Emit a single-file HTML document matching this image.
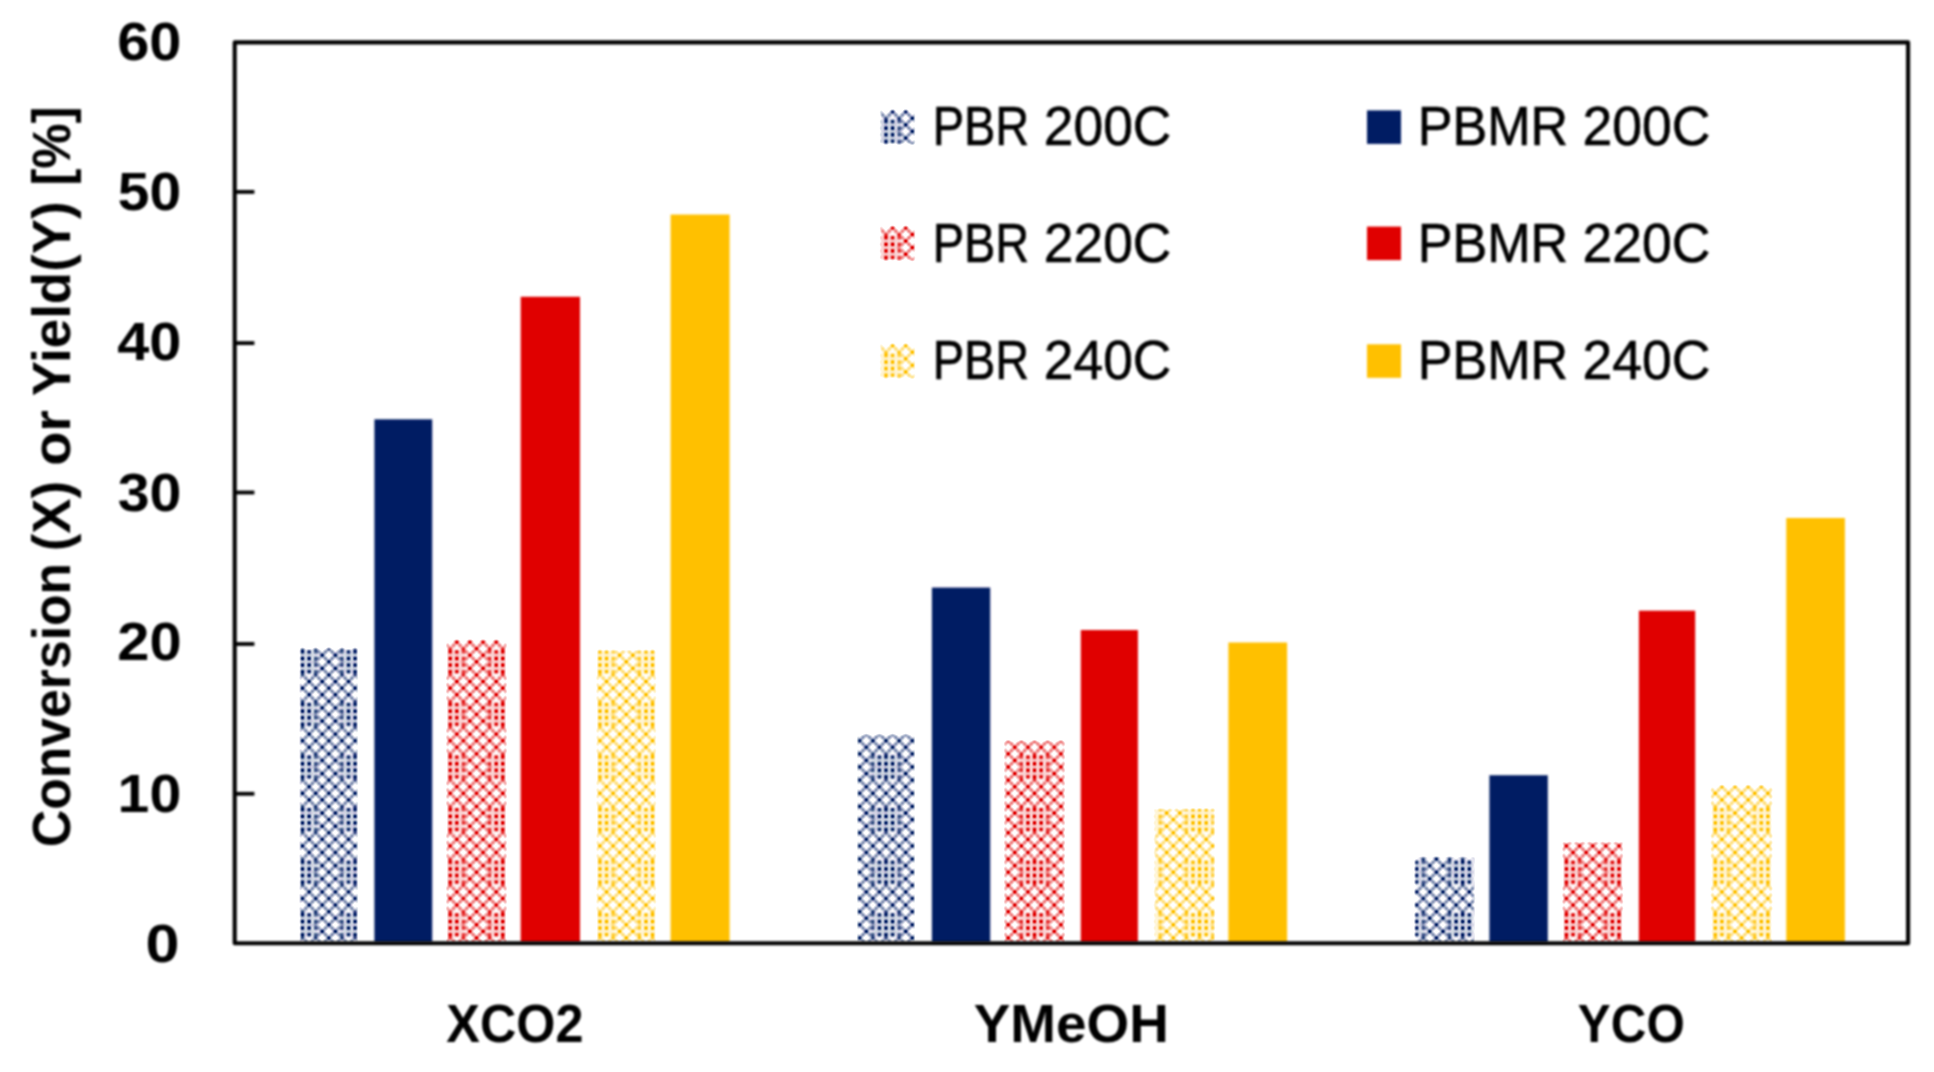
<!DOCTYPE html>
<html lang="en"><head><meta charset="utf-8"><title>Conversion or Yield chart</title>
<style>
html,body{margin:0;padding:0;background:#fff;}
body{width:1934px;height:1072px;overflow:hidden;}
svg{display:block;}
text{font-family:"Liberation Sans",sans-serif;fill:#000;}
.b{font-weight:700;font-size:53px;}
.d{font-weight:700;font-size:52.8px;}
.l{font-weight:400;font-size:55px;stroke:#000;stroke-width:0.6px;}
</style></head><body>
<svg width="1934" height="1072" viewBox="0 0 1934 1072">
<defs>
<g id="tile">
<rect x="0.00" y="0.00" width="3.29" height="3.29" fill-opacity="0.16"/>
<rect x="3.29" y="0.00" width="3.29" height="3.29" fill-opacity="0.20"/>
<rect x="6.58" y="0.00" width="3.29" height="3.29" fill-opacity="0.16"/>
<rect x="9.86" y="0.00" width="3.29" height="3.29" fill-opacity="0.20"/>
<rect x="13.15" y="0.00" width="3.29" height="3.29" fill-opacity="0.41"/>
<rect x="16.44" y="0.00" width="3.29" height="3.29" fill-opacity="0.09"/>
<rect x="23.01" y="0.00" width="3.29" height="3.29" fill-opacity="0.06"/>
<rect x="26.30" y="0.00" width="3.29" height="3.29" fill-opacity="1.00"/>
<rect x="29.59" y="0.00" width="3.29" height="3.29" fill-opacity="0.06"/>
<rect x="36.16" y="0.00" width="3.29" height="3.29" fill-opacity="0.09"/>
<rect x="39.45" y="0.00" width="3.29" height="3.29" fill-opacity="0.41"/>
<rect x="42.74" y="0.00" width="3.29" height="3.29" fill-opacity="0.20"/>
<rect x="46.02" y="0.00" width="3.29" height="3.29" fill-opacity="0.16"/>
<rect x="49.31" y="0.00" width="3.29" height="3.29" fill-opacity="0.20"/>
<rect x="0.00" y="3.29" width="3.29" height="3.29" fill-opacity="1.00"/>
<rect x="3.29" y="3.29" width="3.29" height="3.29" fill-opacity="0.06"/>
<rect x="6.58" y="3.29" width="3.29" height="3.29" fill-opacity="1.00"/>
<rect x="9.86" y="3.29" width="3.29" height="3.29" fill-opacity="0.06"/>
<rect x="13.15" y="3.29" width="3.29" height="3.29" fill-opacity="0.72"/>
<rect x="16.44" y="3.29" width="3.29" height="3.29" fill-opacity="0.41"/>
<rect x="19.73" y="3.29" width="3.29" height="3.29" fill-opacity="0.06"/>
<rect x="23.01" y="3.29" width="3.29" height="3.29" fill-opacity="0.50"/>
<rect x="26.30" y="3.29" width="3.29" height="3.29" fill-opacity="0.06"/>
<rect x="29.59" y="3.29" width="3.29" height="3.29" fill-opacity="0.50"/>
<rect x="32.88" y="3.29" width="3.29" height="3.29" fill-opacity="0.06"/>
<rect x="36.16" y="3.29" width="3.29" height="3.29" fill-opacity="0.41"/>
<rect x="39.45" y="3.29" width="3.29" height="3.29" fill-opacity="0.72"/>
<rect x="42.74" y="3.29" width="3.29" height="3.29" fill-opacity="0.06"/>
<rect x="46.02" y="3.29" width="3.29" height="3.29" fill-opacity="1.00"/>
<rect x="49.31" y="3.29" width="3.29" height="3.29" fill-opacity="0.06"/>
<rect x="0.00" y="6.58" width="3.29" height="3.29" fill-opacity="0.16"/>
<rect x="3.29" y="6.58" width="3.29" height="3.29" fill-opacity="0.20"/>
<rect x="6.58" y="6.58" width="3.29" height="3.29" fill-opacity="0.16"/>
<rect x="9.86" y="6.58" width="3.29" height="3.29" fill-opacity="0.20"/>
<rect x="13.15" y="6.58" width="3.29" height="3.29" fill-opacity="0.11"/>
<rect x="16.44" y="6.58" width="3.29" height="3.29" fill-opacity="0.09"/>
<rect x="19.73" y="6.58" width="3.29" height="3.29" fill-opacity="1.00"/>
<rect x="23.01" y="6.58" width="3.29" height="3.29" fill-opacity="0.06"/>
<rect x="29.59" y="6.58" width="3.29" height="3.29" fill-opacity="0.06"/>
<rect x="32.88" y="6.58" width="3.29" height="3.29" fill-opacity="1.00"/>
<rect x="36.16" y="6.58" width="3.29" height="3.29" fill-opacity="0.09"/>
<rect x="39.45" y="6.58" width="3.29" height="3.29" fill-opacity="0.11"/>
<rect x="42.74" y="6.58" width="3.29" height="3.29" fill-opacity="0.20"/>
<rect x="46.02" y="6.58" width="3.29" height="3.29" fill-opacity="0.16"/>
<rect x="49.31" y="6.58" width="3.29" height="3.29" fill-opacity="0.20"/>
<rect x="0.00" y="9.86" width="3.29" height="3.29" fill-opacity="0.89"/>
<rect x="3.29" y="9.86" width="3.29" height="3.29" fill-opacity="0.11"/>
<rect x="6.58" y="9.86" width="3.29" height="3.29" fill-opacity="0.89"/>
<rect x="9.86" y="9.86" width="3.29" height="3.29" fill-opacity="0.11"/>
<rect x="13.15" y="9.86" width="3.29" height="3.29" fill-opacity="0.64"/>
<rect x="16.44" y="9.86" width="3.29" height="3.29" fill-opacity="0.42"/>
<rect x="19.73" y="9.86" width="3.29" height="3.29" fill-opacity="0.06"/>
<rect x="23.01" y="9.86" width="3.29" height="3.29" fill-opacity="0.50"/>
<rect x="26.30" y="9.86" width="3.29" height="3.29" fill-opacity="0.06"/>
<rect x="29.59" y="9.86" width="3.29" height="3.29" fill-opacity="0.50"/>
<rect x="32.88" y="9.86" width="3.29" height="3.29" fill-opacity="0.06"/>
<rect x="36.16" y="9.86" width="3.29" height="3.29" fill-opacity="0.42"/>
<rect x="39.45" y="9.86" width="3.29" height="3.29" fill-opacity="0.64"/>
<rect x="42.74" y="9.86" width="3.29" height="3.29" fill-opacity="0.11"/>
<rect x="46.02" y="9.86" width="3.29" height="3.29" fill-opacity="0.89"/>
<rect x="49.31" y="9.86" width="3.29" height="3.29" fill-opacity="0.11"/>
<rect x="0.00" y="13.15" width="3.29" height="3.29" fill-opacity="0.70"/>
<rect x="3.29" y="13.15" width="3.29" height="3.29" fill-opacity="0.11"/>
<rect x="6.58" y="13.15" width="3.29" height="3.29" fill-opacity="0.06"/>
<rect x="9.86" y="13.15" width="3.29" height="3.29" fill-opacity="0.11"/>
<rect x="13.15" y="13.15" width="3.29" height="3.29" fill-opacity="0.79"/>
<rect x="16.44" y="13.15" width="3.29" height="3.29" fill-opacity="0.07"/>
<rect x="23.01" y="13.15" width="3.29" height="3.29" fill-opacity="0.06"/>
<rect x="26.30" y="13.15" width="3.29" height="3.29" fill-opacity="1.00"/>
<rect x="29.59" y="13.15" width="3.29" height="3.29" fill-opacity="0.06"/>
<rect x="36.16" y="13.15" width="3.29" height="3.29" fill-opacity="0.07"/>
<rect x="39.45" y="13.15" width="3.29" height="3.29" fill-opacity="0.79"/>
<rect x="42.74" y="13.15" width="3.29" height="3.29" fill-opacity="0.11"/>
<rect x="46.02" y="13.15" width="3.29" height="3.29" fill-opacity="0.06"/>
<rect x="49.31" y="13.15" width="3.29" height="3.29" fill-opacity="0.11"/>
<rect x="0.00" y="16.44" width="3.29" height="3.29" fill-opacity="0.06"/>
<rect x="3.29" y="16.44" width="3.29" height="3.29" fill-opacity="0.50"/>
<rect x="6.58" y="16.44" width="3.29" height="3.29" fill-opacity="0.06"/>
<rect x="9.86" y="16.44" width="3.29" height="3.29" fill-opacity="0.50"/>
<rect x="13.15" y="16.44" width="3.29" height="3.29" fill-opacity="0.06"/>
<rect x="16.44" y="16.44" width="3.29" height="3.29" fill-opacity="0.50"/>
<rect x="19.73" y="16.44" width="3.29" height="3.29" fill-opacity="0.06"/>
<rect x="23.01" y="16.44" width="3.29" height="3.29" fill-opacity="0.50"/>
<rect x="26.30" y="16.44" width="3.29" height="3.29" fill-opacity="0.06"/>
<rect x="29.59" y="16.44" width="3.29" height="3.29" fill-opacity="0.50"/>
<rect x="32.88" y="16.44" width="3.29" height="3.29" fill-opacity="0.06"/>
<rect x="36.16" y="16.44" width="3.29" height="3.29" fill-opacity="0.50"/>
<rect x="39.45" y="16.44" width="3.29" height="3.29" fill-opacity="0.06"/>
<rect x="42.74" y="16.44" width="3.29" height="3.29" fill-opacity="0.50"/>
<rect x="46.02" y="16.44" width="3.29" height="3.29" fill-opacity="0.06"/>
<rect x="49.31" y="16.44" width="3.29" height="3.29" fill-opacity="0.50"/>
<rect x="3.29" y="19.73" width="3.29" height="3.29" fill-opacity="0.06"/>
<rect x="6.58" y="19.73" width="3.29" height="3.29" fill-opacity="1.00"/>
<rect x="9.86" y="19.73" width="3.29" height="3.29" fill-opacity="0.06"/>
<rect x="16.44" y="19.73" width="3.29" height="3.29" fill-opacity="0.06"/>
<rect x="19.73" y="19.73" width="3.29" height="3.29" fill-opacity="1.00"/>
<rect x="23.01" y="19.73" width="3.29" height="3.29" fill-opacity="0.06"/>
<rect x="29.59" y="19.73" width="3.29" height="3.29" fill-opacity="0.06"/>
<rect x="32.88" y="19.73" width="3.29" height="3.29" fill-opacity="1.00"/>
<rect x="36.16" y="19.73" width="3.29" height="3.29" fill-opacity="0.06"/>
<rect x="42.74" y="19.73" width="3.29" height="3.29" fill-opacity="0.06"/>
<rect x="46.02" y="19.73" width="3.29" height="3.29" fill-opacity="1.00"/>
<rect x="49.31" y="19.73" width="3.29" height="3.29" fill-opacity="0.06"/>
<rect x="0.00" y="23.01" width="3.29" height="3.29" fill-opacity="0.06"/>
<rect x="3.29" y="23.01" width="3.29" height="3.29" fill-opacity="0.50"/>
<rect x="6.58" y="23.01" width="3.29" height="3.29" fill-opacity="0.06"/>
<rect x="9.86" y="23.01" width="3.29" height="3.29" fill-opacity="0.50"/>
<rect x="13.15" y="23.01" width="3.29" height="3.29" fill-opacity="0.06"/>
<rect x="16.44" y="23.01" width="3.29" height="3.29" fill-opacity="0.50"/>
<rect x="19.73" y="23.01" width="3.29" height="3.29" fill-opacity="0.06"/>
<rect x="23.01" y="23.01" width="3.29" height="3.29" fill-opacity="0.50"/>
<rect x="26.30" y="23.01" width="3.29" height="3.29" fill-opacity="0.06"/>
<rect x="29.59" y="23.01" width="3.29" height="3.29" fill-opacity="0.50"/>
<rect x="32.88" y="23.01" width="3.29" height="3.29" fill-opacity="0.06"/>
<rect x="36.16" y="23.01" width="3.29" height="3.29" fill-opacity="0.50"/>
<rect x="39.45" y="23.01" width="3.29" height="3.29" fill-opacity="0.06"/>
<rect x="42.74" y="23.01" width="3.29" height="3.29" fill-opacity="0.50"/>
<rect x="46.02" y="23.01" width="3.29" height="3.29" fill-opacity="0.06"/>
<rect x="49.31" y="23.01" width="3.29" height="3.29" fill-opacity="0.50"/>
<rect x="0.00" y="26.30" width="3.29" height="3.29" fill-opacity="1.00"/>
<rect x="3.29" y="26.30" width="3.29" height="3.29" fill-opacity="0.06"/>
<rect x="9.86" y="26.30" width="3.29" height="3.29" fill-opacity="0.06"/>
<rect x="13.15" y="26.30" width="3.29" height="3.29" fill-opacity="1.00"/>
<rect x="16.44" y="26.30" width="3.29" height="3.29" fill-opacity="0.06"/>
<rect x="23.01" y="26.30" width="3.29" height="3.29" fill-opacity="0.06"/>
<rect x="26.30" y="26.30" width="3.29" height="3.29" fill-opacity="1.00"/>
<rect x="29.59" y="26.30" width="3.29" height="3.29" fill-opacity="0.06"/>
<rect x="36.16" y="26.30" width="3.29" height="3.29" fill-opacity="0.06"/>
<rect x="39.45" y="26.30" width="3.29" height="3.29" fill-opacity="1.00"/>
<rect x="42.74" y="26.30" width="3.29" height="3.29" fill-opacity="0.06"/>
<rect x="49.31" y="26.30" width="3.29" height="3.29" fill-opacity="0.06"/>
<rect x="0.00" y="29.59" width="3.29" height="3.29" fill-opacity="0.06"/>
<rect x="3.29" y="29.59" width="3.29" height="3.29" fill-opacity="0.50"/>
<rect x="6.58" y="29.59" width="3.29" height="3.29" fill-opacity="0.06"/>
<rect x="9.86" y="29.59" width="3.29" height="3.29" fill-opacity="0.50"/>
<rect x="13.15" y="29.59" width="3.29" height="3.29" fill-opacity="0.06"/>
<rect x="16.44" y="29.59" width="3.29" height="3.29" fill-opacity="0.50"/>
<rect x="19.73" y="29.59" width="3.29" height="3.29" fill-opacity="0.06"/>
<rect x="23.01" y="29.59" width="3.29" height="3.29" fill-opacity="0.50"/>
<rect x="26.30" y="29.59" width="3.29" height="3.29" fill-opacity="0.06"/>
<rect x="29.59" y="29.59" width="3.29" height="3.29" fill-opacity="0.50"/>
<rect x="32.88" y="29.59" width="3.29" height="3.29" fill-opacity="0.06"/>
<rect x="36.16" y="29.59" width="3.29" height="3.29" fill-opacity="0.50"/>
<rect x="39.45" y="29.59" width="3.29" height="3.29" fill-opacity="0.06"/>
<rect x="42.74" y="29.59" width="3.29" height="3.29" fill-opacity="0.50"/>
<rect x="46.02" y="29.59" width="3.29" height="3.29" fill-opacity="0.06"/>
<rect x="49.31" y="29.59" width="3.29" height="3.29" fill-opacity="0.50"/>
<rect x="3.29" y="32.88" width="3.29" height="3.29" fill-opacity="0.06"/>
<rect x="6.58" y="32.88" width="3.29" height="3.29" fill-opacity="1.00"/>
<rect x="9.86" y="32.88" width="3.29" height="3.29" fill-opacity="0.06"/>
<rect x="16.44" y="32.88" width="3.29" height="3.29" fill-opacity="0.06"/>
<rect x="19.73" y="32.88" width="3.29" height="3.29" fill-opacity="1.00"/>
<rect x="23.01" y="32.88" width="3.29" height="3.29" fill-opacity="0.06"/>
<rect x="29.59" y="32.88" width="3.29" height="3.29" fill-opacity="0.06"/>
<rect x="32.88" y="32.88" width="3.29" height="3.29" fill-opacity="1.00"/>
<rect x="36.16" y="32.88" width="3.29" height="3.29" fill-opacity="0.06"/>
<rect x="42.74" y="32.88" width="3.29" height="3.29" fill-opacity="0.06"/>
<rect x="46.02" y="32.88" width="3.29" height="3.29" fill-opacity="1.00"/>
<rect x="49.31" y="32.88" width="3.29" height="3.29" fill-opacity="0.06"/>
<rect x="0.00" y="36.16" width="3.29" height="3.29" fill-opacity="0.06"/>
<rect x="3.29" y="36.16" width="3.29" height="3.29" fill-opacity="0.50"/>
<rect x="6.58" y="36.16" width="3.29" height="3.29" fill-opacity="0.06"/>
<rect x="9.86" y="36.16" width="3.29" height="3.29" fill-opacity="0.50"/>
<rect x="13.15" y="36.16" width="3.29" height="3.29" fill-opacity="0.06"/>
<rect x="16.44" y="36.16" width="3.29" height="3.29" fill-opacity="0.50"/>
<rect x="19.73" y="36.16" width="3.29" height="3.29" fill-opacity="0.06"/>
<rect x="23.01" y="36.16" width="3.29" height="3.29" fill-opacity="0.50"/>
<rect x="26.30" y="36.16" width="3.29" height="3.29" fill-opacity="0.06"/>
<rect x="29.59" y="36.16" width="3.29" height="3.29" fill-opacity="0.50"/>
<rect x="32.88" y="36.16" width="3.29" height="3.29" fill-opacity="0.06"/>
<rect x="36.16" y="36.16" width="3.29" height="3.29" fill-opacity="0.50"/>
<rect x="39.45" y="36.16" width="3.29" height="3.29" fill-opacity="0.06"/>
<rect x="42.74" y="36.16" width="3.29" height="3.29" fill-opacity="0.50"/>
<rect x="46.02" y="36.16" width="3.29" height="3.29" fill-opacity="0.06"/>
<rect x="49.31" y="36.16" width="3.29" height="3.29" fill-opacity="0.50"/>
<rect x="0.00" y="39.45" width="3.29" height="3.29" fill-opacity="0.70"/>
<rect x="3.29" y="39.45" width="3.29" height="3.29" fill-opacity="0.11"/>
<rect x="6.58" y="39.45" width="3.29" height="3.29" fill-opacity="0.06"/>
<rect x="9.86" y="39.45" width="3.29" height="3.29" fill-opacity="0.11"/>
<rect x="13.15" y="39.45" width="3.29" height="3.29" fill-opacity="0.79"/>
<rect x="16.44" y="39.45" width="3.29" height="3.29" fill-opacity="0.07"/>
<rect x="23.01" y="39.45" width="3.29" height="3.29" fill-opacity="0.06"/>
<rect x="26.30" y="39.45" width="3.29" height="3.29" fill-opacity="1.00"/>
<rect x="29.59" y="39.45" width="3.29" height="3.29" fill-opacity="0.06"/>
<rect x="36.16" y="39.45" width="3.29" height="3.29" fill-opacity="0.07"/>
<rect x="39.45" y="39.45" width="3.29" height="3.29" fill-opacity="0.79"/>
<rect x="42.74" y="39.45" width="3.29" height="3.29" fill-opacity="0.11"/>
<rect x="46.02" y="39.45" width="3.29" height="3.29" fill-opacity="0.06"/>
<rect x="49.31" y="39.45" width="3.29" height="3.29" fill-opacity="0.11"/>
<rect x="0.00" y="42.74" width="3.29" height="3.29" fill-opacity="0.89"/>
<rect x="3.29" y="42.74" width="3.29" height="3.29" fill-opacity="0.11"/>
<rect x="6.58" y="42.74" width="3.29" height="3.29" fill-opacity="0.89"/>
<rect x="9.86" y="42.74" width="3.29" height="3.29" fill-opacity="0.11"/>
<rect x="13.15" y="42.74" width="3.29" height="3.29" fill-opacity="0.64"/>
<rect x="16.44" y="42.74" width="3.29" height="3.29" fill-opacity="0.42"/>
<rect x="19.73" y="42.74" width="3.29" height="3.29" fill-opacity="0.06"/>
<rect x="23.01" y="42.74" width="3.29" height="3.29" fill-opacity="0.50"/>
<rect x="26.30" y="42.74" width="3.29" height="3.29" fill-opacity="0.06"/>
<rect x="29.59" y="42.74" width="3.29" height="3.29" fill-opacity="0.50"/>
<rect x="32.88" y="42.74" width="3.29" height="3.29" fill-opacity="0.06"/>
<rect x="36.16" y="42.74" width="3.29" height="3.29" fill-opacity="0.42"/>
<rect x="39.45" y="42.74" width="3.29" height="3.29" fill-opacity="0.64"/>
<rect x="42.74" y="42.74" width="3.29" height="3.29" fill-opacity="0.11"/>
<rect x="46.02" y="42.74" width="3.29" height="3.29" fill-opacity="0.89"/>
<rect x="49.31" y="42.74" width="3.29" height="3.29" fill-opacity="0.11"/>
<rect x="0.00" y="46.02" width="3.29" height="3.29" fill-opacity="0.16"/>
<rect x="3.29" y="46.02" width="3.29" height="3.29" fill-opacity="0.20"/>
<rect x="6.58" y="46.02" width="3.29" height="3.29" fill-opacity="0.16"/>
<rect x="9.86" y="46.02" width="3.29" height="3.29" fill-opacity="0.20"/>
<rect x="13.15" y="46.02" width="3.29" height="3.29" fill-opacity="0.11"/>
<rect x="16.44" y="46.02" width="3.29" height="3.29" fill-opacity="0.09"/>
<rect x="19.73" y="46.02" width="3.29" height="3.29" fill-opacity="1.00"/>
<rect x="23.01" y="46.02" width="3.29" height="3.29" fill-opacity="0.06"/>
<rect x="29.59" y="46.02" width="3.29" height="3.29" fill-opacity="0.06"/>
<rect x="32.88" y="46.02" width="3.29" height="3.29" fill-opacity="1.00"/>
<rect x="36.16" y="46.02" width="3.29" height="3.29" fill-opacity="0.09"/>
<rect x="39.45" y="46.02" width="3.29" height="3.29" fill-opacity="0.11"/>
<rect x="42.74" y="46.02" width="3.29" height="3.29" fill-opacity="0.20"/>
<rect x="46.02" y="46.02" width="3.29" height="3.29" fill-opacity="0.16"/>
<rect x="49.31" y="46.02" width="3.29" height="3.29" fill-opacity="0.20"/>
<rect x="0.00" y="49.31" width="3.29" height="3.29" fill-opacity="1.00"/>
<rect x="3.29" y="49.31" width="3.29" height="3.29" fill-opacity="0.06"/>
<rect x="6.58" y="49.31" width="3.29" height="3.29" fill-opacity="1.00"/>
<rect x="9.86" y="49.31" width="3.29" height="3.29" fill-opacity="0.06"/>
<rect x="13.15" y="49.31" width="3.29" height="3.29" fill-opacity="0.72"/>
<rect x="16.44" y="49.31" width="3.29" height="3.29" fill-opacity="0.41"/>
<rect x="19.73" y="49.31" width="3.29" height="3.29" fill-opacity="0.06"/>
<rect x="23.01" y="49.31" width="3.29" height="3.29" fill-opacity="0.50"/>
<rect x="26.30" y="49.31" width="3.29" height="3.29" fill-opacity="0.06"/>
<rect x="29.59" y="49.31" width="3.29" height="3.29" fill-opacity="0.50"/>
<rect x="32.88" y="49.31" width="3.29" height="3.29" fill-opacity="0.06"/>
<rect x="36.16" y="49.31" width="3.29" height="3.29" fill-opacity="0.41"/>
<rect x="39.45" y="49.31" width="3.29" height="3.29" fill-opacity="0.72"/>
<rect x="42.74" y="49.31" width="3.29" height="3.29" fill-opacity="0.06"/>
<rect x="46.02" y="49.31" width="3.29" height="3.29" fill-opacity="1.00"/>
<rect x="49.31" y="49.31" width="3.29" height="3.29" fill-opacity="0.06"/>
</g>
<pattern id="pb" patternUnits="userSpaceOnUse" x="-27.94" y="-19.34" width="52.60" height="52.60"><use href="#tile" fill="#001b63"/></pattern>
<pattern id="pr" patternUnits="userSpaceOnUse" x="-27.94" y="-19.34" width="52.60" height="52.60"><use href="#tile" fill="#e00000"/></pattern>
<pattern id="py" patternUnits="userSpaceOnUse" x="-27.94" y="-19.34" width="52.60" height="52.60"><use href="#tile" fill="#ffc000"/></pattern>
<filter id="soft" x="-5%" y="-5%" width="110%" height="110%"><feGaussianBlur stdDeviation="0.8"/><feComponentTransfer><feFuncA type="linear" slope="1.6" intercept="-0.13"/></feComponentTransfer></filter>
<filter id="up" filterUnits="userSpaceOnUse" x="0" y="0" width="1934" height="1072"><feGaussianBlur stdDeviation="0.8"/></filter>
</defs>
<rect x="0" y="0" width="1934" height="1072" fill="#fff"/>
<g id="main" filter="url(#up)">
<g id="bars">
<rect x="374.40" y="419.30" width="57.80" height="523.20" fill="#001b63"/>
<rect x="520.70" y="296.75" width="59.30" height="645.75" fill="#e00000"/>
<rect x="670.60" y="214.55" width="59.00" height="727.95" fill="#ffc000"/>
<rect x="931.90" y="587.60" width="58.30" height="354.90" fill="#001b63"/>
<rect x="1080.80" y="630.05" width="57.10" height="312.45" fill="#e00000"/>
<rect x="1228.40" y="642.50" width="58.70" height="300.00" fill="#ffc000"/>
<rect x="1489.40" y="775.25" width="58.40" height="167.25" fill="#001b63"/>
<rect x="1638.90" y="610.70" width="56.30" height="331.80" fill="#e00000"/>
<rect x="1786.30" y="518.00" width="58.60" height="424.50" fill="#ffc000"/>
</g>
</g>
<g id="patterned" filter="url(#soft)">
<rect transform="translate(328.80,942.50)" x="-28.90" y="-294.00" width="57.80" height="294.00" fill="url(#pb)"/>
<rect transform="translate(476.50,942.50)" x="-29.90" y="-302.25" width="59.80" height="302.25" fill="url(#pr)"/>
<rect transform="translate(626.25,942.50)" x="-29.45" y="-292.05" width="58.90" height="292.05" fill="url(#py)"/>
<rect transform="translate(859.70,942.50)" x="-2.30" y="-207.75" width="57.20" height="207.75" fill="url(#pb)"/>
<rect transform="translate(1008.20,942.50)" x="-3.70" y="-201.45" width="60.00" height="201.45" fill="url(#pr)"/>
<rect transform="translate(1173.25,942.50)" x="-18.65" y="-133.50" width="59.90" height="133.50" fill="url(#py)"/>
<rect transform="translate(1436.40,942.50)" x="-21.50" y="-85.50" width="59.60" height="85.50" fill="url(#pb)"/>
<rect transform="translate(1592.70,942.50)" x="-29.90" y="-100.20" width="59.80" height="100.20" fill="url(#pr)"/>
<rect transform="translate(1741.60,942.50)" x="-30.40" y="-156.75" width="60.80" height="156.75" fill="url(#py)"/>
</g>
<g id="main2" filter="url(#up)">
<g id="axes" fill="none" stroke="#000" stroke-width="4.10" stroke-linejoin="round">
<rect x="234.70" y="42.40" width="1673.40" height="900.80"/>
<line stroke-width="3.8" x1="234.70" y1="793.80" x2="254.40" y2="793.80"/>
<line stroke-width="3.8" x1="234.70" y1="644.00" x2="254.40" y2="644.00"/>
<line stroke-width="3.8" x1="234.70" y1="492.50" x2="254.40" y2="492.50"/>
<line stroke-width="3.8" x1="234.70" y1="343.10" x2="254.40" y2="343.10"/>
<line stroke-width="3.8" x1="234.70" y1="191.90" x2="254.40" y2="191.90"/>
</g>
<g id="yticks">
<text class="d" x="145.56" y="961.55" textLength="33.96" lengthAdjust="spacingAndGlyphs">0</text>
<text class="d" x="117.63" y="812.05" textLength="63.59" lengthAdjust="spacingAndGlyphs">10</text>
<text class="d" x="117.28" y="660.35" textLength="64.27" lengthAdjust="spacingAndGlyphs">20</text>
<text class="d" x="117.71" y="510.75" textLength="63.71" lengthAdjust="spacingAndGlyphs">30</text>
<text class="d" x="117.34" y="359.55" textLength="64.10" lengthAdjust="spacingAndGlyphs">40</text>
<text class="d" x="117.89" y="209.85" textLength="63.32" lengthAdjust="spacingAndGlyphs">50</text>
<text class="d" x="117.24" y="59.95" textLength="64.21" lengthAdjust="spacingAndGlyphs">60</text>
</g>
<g id="ytitle">
<text class="b" transform="translate(70.20,845.00) rotate(-90)" x="-2.07" y="0" textLength="284.23" lengthAdjust="spacingAndGlyphs">Conversion</text>
<text class="b" transform="translate(70.20,548.70) rotate(-90)" x="-2.64" y="0" textLength="70.41" lengthAdjust="spacingAndGlyphs">(X)</text>
<text class="b" transform="translate(70.20,463.60) rotate(-90)" x="-2.23" y="0" textLength="55.77" lengthAdjust="spacingAndGlyphs">or</text>
<text class="b" transform="translate(70.20,395.40) rotate(-90)" x="-0.93" y="0" textLength="195.00" lengthAdjust="spacingAndGlyphs">Yield(Y)</text>
<text class="b" transform="translate(70.20,182.80) rotate(-90)" x="-2.80" y="0" textLength="79.21" lengthAdjust="spacingAndGlyphs">[%]</text>
</g>
<g id="cats">
<text class="b" x="446.30" y="1041.60" textLength="137.15" lengthAdjust="spacingAndGlyphs">XCO2</text>
<text class="b" x="973.74" y="1041.60" textLength="195.19" lengthAdjust="spacingAndGlyphs">YMeOH</text>
<text class="b" x="1577.84" y="1041.60" textLength="107.04" lengthAdjust="spacingAndGlyphs">YCO</text>
</g>
<g id="legend">
<text class="l" x="932.63" y="145.40" textLength="96.54" lengthAdjust="spacingAndGlyphs">PBR</text>
<text class="l" x="1043.83" y="145.40" textLength="127.54" lengthAdjust="spacingAndGlyphs">200C</text>
<rect x="1367" y="110.40" width="34" height="33.5" fill="#001b63"/>
<text class="l" x="1417.70" y="145.40" textLength="150.53" lengthAdjust="spacingAndGlyphs">PBMR</text>
<text class="l" x="1582.42" y="145.40" textLength="128.06" lengthAdjust="spacingAndGlyphs">200C</text>
<text class="l" x="932.63" y="261.60" textLength="96.54" lengthAdjust="spacingAndGlyphs">PBR</text>
<text class="l" x="1043.83" y="261.60" textLength="127.54" lengthAdjust="spacingAndGlyphs">220C</text>
<rect x="1367" y="226.60" width="34" height="33.5" fill="#e00000"/>
<text class="l" x="1417.70" y="261.60" textLength="150.53" lengthAdjust="spacingAndGlyphs">PBMR</text>
<text class="l" x="1582.42" y="261.60" textLength="128.06" lengthAdjust="spacingAndGlyphs">220C</text>
<text class="l" x="932.63" y="379.30" textLength="96.54" lengthAdjust="spacingAndGlyphs">PBR</text>
<text class="l" x="1043.83" y="379.30" textLength="127.54" lengthAdjust="spacingAndGlyphs">240C</text>
<rect x="1367" y="344.30" width="34" height="33.5" fill="#ffc000"/>
<text class="l" x="1417.70" y="379.30" textLength="150.53" lengthAdjust="spacingAndGlyphs">PBMR</text>
<text class="l" x="1582.42" y="379.30" textLength="128.06" lengthAdjust="spacingAndGlyphs">240C</text>
</g>
</g>
<g id="swatches">
<rect filter="url(#soft)" transform="translate(912.30,149.10)" x="-31.70" y="-38.70" width="34.2" height="33.6" fill="url(#pb)"/>
<rect filter="url(#soft)" transform="translate(912.30,265.30)" x="-31.70" y="-38.70" width="34.2" height="33.6" fill="url(#pr)"/>
<rect filter="url(#soft)" transform="translate(912.30,383.00)" x="-31.70" y="-38.70" width="34.2" height="33.6" fill="url(#py)"/>
</g>
</svg>
</body></html>
